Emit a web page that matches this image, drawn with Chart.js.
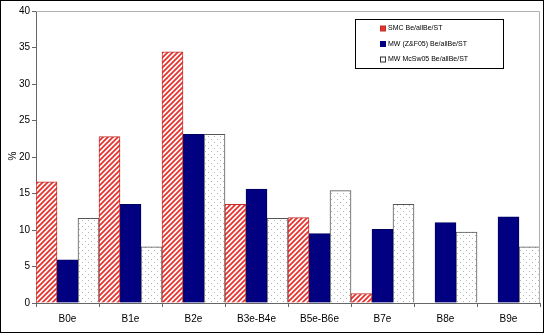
<!DOCTYPE html>
<html>
<head>
<meta charset="utf-8">
<script src="https://cdn.jsdelivr.net/npm/chart.js@4"></script>
<style>
  body { margin: 0; background: #fff; }
  canvas { display: block; }
</style>
</head>
<body>
<canvas id="beChart" width="544" height="333"></canvas>
<script>
// categories and series
const categories = ['B0e', 'B1e', 'B2e', 'B3e-B4e', 'B5e-B6e', 'B7e', 'B8e', 'B9e'];
const smcValues = [16.6, 22.8, 34.4, 13.5, 11.7, 1.3, 0, 0];
const mwZfValues = [5.9, 13.5, 23.1, 15.6, 9.5, 10.1, 11.0, 11.8];
const mwMcValues = [11.6, 7.7, 23.1, 11.6, 15.4, 13.5, 9.7, 7.7];
const seriesNames = ['SMC Be/allBe/ST', 'MW (Z&F05) Be/allBe/ST', 'MW McSw05 Be/allBe/ST'];
const yTicks = [0, 5, 10, 15, 20, 25, 30, 35, 40];

const FONT = '"Liberation Sans", Arial, sans-serif';

// hatch patterns like the old excel fills
function stripePattern() {
    const c = document.createElement('canvas');
    c.width = 5; c.height = 5;
    const g = c.getContext('2d');
    g.fillStyle = '#fff';
    g.fillRect(0, 0, 5, 5);
    g.strokeStyle = '#e8322d';
    g.lineWidth = 1.8;
    g.beginPath();
    g.moveTo(-1, 6); g.lineTo(6, -1);
    g.moveTo(-3, 3); g.lineTo(3, -3);
    g.moveTo(2, 8); g.lineTo(8, 2);
    g.stroke();
    return g.createPattern(c, 'repeat');
}

function dotPattern() {
    const c = document.createElement('canvas');
    c.width = 6; c.height = 6;
    const g = c.getContext('2d');
    g.fillStyle = '#fff';
    g.fillRect(0, 0, 6, 6);
    g.fillStyle = '#b4b4b4';
    g.fillRect(1, 1, 1, 1);
    g.fillRect(4, 4, 1, 1);
    return g.createPattern(c, 'repeat');
}

const stripes = stripePattern();
const dots = dotPattern();

// legend box, frame and the % label drawn by hand to match the original layout
const framePlugin = {
    id: 'frame',
    afterDraw(chart) {
        const ctx = chart.ctx;
        const a = chart.chartArea;
        ctx.save();
        ctx.strokeStyle = '#b0b0b0';
        ctx.lineWidth = 1;
        ctx.beginPath();
        ctx.moveTo(a.left, a.top + 0.5);
        ctx.lineTo(a.right - 0.5, a.top + 0.5);
        ctx.lineTo(a.right - 0.5, a.bottom);
        ctx.stroke();

        ctx.strokeStyle = '#000';
        ctx.strokeRect(0.5, 0.5, chart.width - 1, chart.height - 1);

        // rotated axis title
        ctx.save();
        ctx.translate(13, 156);
        ctx.rotate(-Math.PI / 2);
        ctx.font = '10px ' + FONT;
        ctx.fillStyle = '#000';
        ctx.textAlign = 'center';
        ctx.textBaseline = 'middle';
        ctx.fillText('%', 0, 0);
        ctx.restore();

        // legend
        const lx = 355.5, ly = 19.5, lw = 148, lh = 49;
        ctx.fillStyle = '#fff';
        ctx.fillRect(lx, ly, lw, lh);
        ctx.strokeStyle = '#000';
        ctx.strokeRect(lx, ly, lw, lh);
        const fills = ['#e8322d', '#000080', '#fff'];
        const borders = ['#c0302a', '#000080', '#333'];
        ctx.font = '7px ' + FONT;
        ctx.textBaseline = 'middle';
        seriesNames.forEach((name, i) => {
            const y = ly + 9 + i * 15.5;
            ctx.fillStyle = fills[i];
            ctx.fillRect(380, y - 2.5, 5, 5);
            ctx.strokeStyle = borders[i];
            ctx.strokeRect(380.5, y - 2.5, 5, 5);
            ctx.fillStyle = '#000';
            ctx.fillText(name, 388, y);
        });
        ctx.restore();
    }
};

const barStyle = {
    categoryPercentage: 1.0,
    barPercentage: 1.0,
    borderWidth: 1,
    borderSkipped: 'bottom'
};

new Chart(document.getElementById('beChart'), {
    type: 'bar',
    data: {
        labels: categories,
        datasets: [
            { label: seriesNames[0], data: smcValues, backgroundColor: stripes, borderColor: '#c0302a', ...barStyle },
            { label: seriesNames[1], data: mwZfValues, backgroundColor: '#000080', borderColor: '#000060', ...barStyle },
            { label: seriesNames[2], data: mwMcValues, backgroundColor: dots, borderColor: '#555', ...barStyle }
        ]
    },
    options: {
        responsive: false,
        animation: false,
        layout: { padding: { top: 11, right: 4, left: 0, bottom: 0 } },
        plugins: {
            legend: { display: false },
            tooltip: { enabled: false }
        },
        scales: {
            x: {
                offset: true,
                grid: { offset: true, drawOnChartArea: false, drawTicks: true, tickLength: 4, color: '#666' },
                border: { color: '#666' },
                ticks: { color: '#000', font: { family: FONT, size: 10 }, padding: 6, maxRotation: 0 },
                afterFit(scale) { scale.height = 30; }
            },
            y: {
                min: 0,
                max: 40,
                afterBuildTicks(scale) { scale.ticks = yTicks.map(v => ({ value: v })); },
                grid: { drawOnChartArea: false, drawTicks: true, tickLength: 4, color: '#666' },
                border: { color: '#666' },
                ticks: { color: '#000', font: { family: FONT, size: 10 }, padding: 2 },
                afterFit(scale) { scale.width = 36; }
            }
        }
    },
    plugins: [framePlugin]
});
</script>
</body>
</html>
